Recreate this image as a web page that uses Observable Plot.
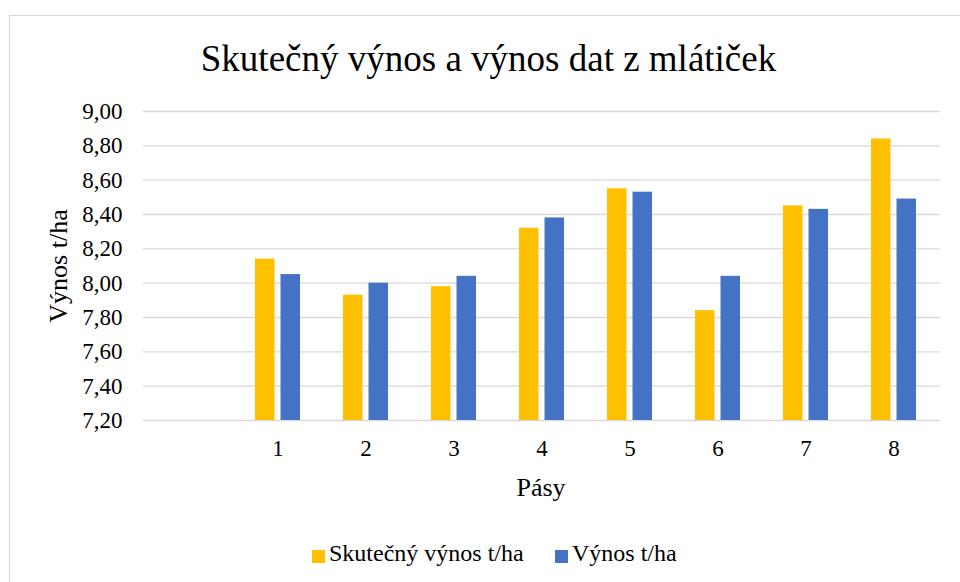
<!DOCTYPE html>
<html>
<head>
<meta charset="utf-8">
<script src="https://cdn.jsdelivr.net/npm/d3@7"></script>
<script src="https://cdn.jsdelivr.net/npm/@observablehq/plot@0.6"></script>
<style>
  html, body { margin: 0; padding: 0; background: #fff; }
  #wrap { position: relative; width: 960px; height: 582px; overflow: hidden; font-family: "Liberation Serif", "Times New Roman", serif; color: #000; }
  #frame { position: absolute; left: 9px; top: 15px; width: 1000px; height: 700px; border: 1.5px solid #d9d9d9; box-sizing: border-box; }
  #chart { position: absolute; left: 0; top: 0; }
  .txt { position: absolute; white-space: nowrap; line-height: 1; }
  #title { left: 0; width: 977px; text-align: center; top: 40px; font-size: 37px; }
  #ylab { font-size: 26px; left: 59px; top: 266px; transform: translate(-50%, -50%) rotate(-90deg); }
  #xlab { font-size: 26px; left: 541px; top: 475px; transform: translateX(-50%); }
  .sw { position: absolute; width: 13px; height: 13px; }
  .leg { font-size: 24px; }
</style>
</head>
<body>
<div id="wrap">
  <div id="frame"></div>
  <div id="chart"></div>
  <div id="title" class="txt"></div>
  <div id="ylab" class="txt"></div>
  <div id="xlab" class="txt"></div>
  <div id="legend"></div>
</div>
<script>
// ---- data ----
const titleText = "Skutečný výnos a výnos dat z mlátiček";
const yLabel = "Výnos t/ha";
const xLabel = "Pásy";
const categories = ["", "1", "2", "3", "4", "5", "6", "7", "8"];
const pasy = ["1", "2", "3", "4", "5", "6", "7", "8"];
const seriesNames = ["Skutečný výnos t/ha", "Výnos t/ha"];
const seriesColors = ["#FFC000", "#4472C4"];
const skutecnyVynos = [8.14, 7.93, 7.98, 8.32, 8.55, 7.84, 8.45, 8.84];
const vynos = [8.05, 8.00, 8.04, 8.38, 8.53, 8.04, 8.43, 8.49];
const yTicks = [7.2, 7.4, 7.6, 7.8, 8.0, 8.2, 8.4, 8.6, 8.8, 9.0];
const yDomain = [7.2, 9.0];

const rowsA = pasy.map((p, i) => ({pas: p, value: skutecnyVynos[i], base: yDomain[0]}));
const rowsB = pasy.map((p, i) => ({pas: p, value: vynos[i], base: yDomain[0]}));

const fmt = d => d.toFixed(2).replace(".", ",");
const font = "'Liberation Serif', 'Times New Roman', serif";

const plot = Plot.plot({
  width: 960,
  height: 470,
  marginTop: 111,
  marginBottom: 50,
  marginLeft: 143,
  marginRight: 20,
  style: {fontFamily: font, background: "transparent", color: "#000", overflow: "visible"},
  x: {type: "band", domain: categories, paddingInner: 0.492, paddingOuter: 0.246},
  y: {domain: yDomain},
  marks: [
    Plot.ruleY(yTicks, {stroke: "#d9d9d9", strokeWidth: 1.3, strokeOpacity: 1}),
    Plot.barY(rowsA, {x: "pas", y1: "base", y2: "value", fill: seriesColors[0], insetRight: 25.5, insetLeft: 0}),
    Plot.barY(rowsB, {x: "pas", y1: "base", y2: "value", fill: seriesColors[1], insetLeft: 25.5, insetRight: 0}),
    Plot.axisY({ticks: yTicks, tickFormat: fmt, tickSize: 0, tickPadding: 21, fontSize: 23, label: null, fill: "#000"}),
    Plot.axisX({tickSize: 0, tickPadding: 19, fontSize: 23, label: null, fill: "#000"})
  ]
});
document.getElementById("chart").appendChild(plot);

document.getElementById("title").textContent = titleText;
document.getElementById("ylab").textContent = yLabel;
document.getElementById("xlab").textContent = xLabel;

// legend
const legend = document.getElementById("legend");
const legPos = [{sw: 312, tx: 329}, {sw: 555, tx: 572}];
seriesNames.forEach((name, i) => {
  const sw = document.createElement("div");
  sw.className = "sw";
  sw.style.left = legPos[i].sw + "px";
  sw.style.top = "550px";
  sw.style.background = seriesColors[i];
  legend.appendChild(sw);
  const t = document.createElement("div");
  t.className = "txt leg";
  t.style.left = legPos[i].tx + "px";
  t.style.top = "541px";
  t.textContent = name;
  legend.appendChild(t);
});
</script>
</body>
</html>
